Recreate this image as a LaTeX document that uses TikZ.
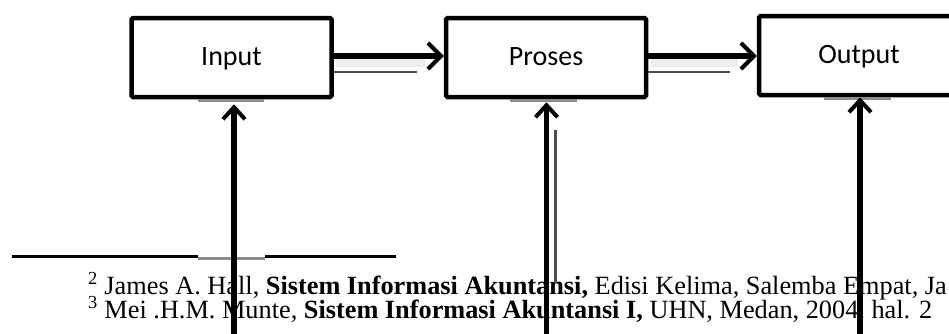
\documentclass[tikz,border=0pt]{standalone}
\usepackage{fontspec}
\setmainfont{Liberation Serif}
\newfontfamily\boxfont{Carlito}
\usetikzlibrary{arrows.meta}
\tikzset{
  procbox/.style={draw=black, line width=4.5pt, rounded corners=1.5pt,
    minimum width=200pt, minimum height=79pt, inner sep=0pt,
    text height=20pt, text depth=5pt,
    font=\boxfont\fontsize{28}{28}\selectfont},
  flowarrow/.style={line width=6pt,
    -{Straight Barb[length=13pt,width=26pt,line width=4pt]}},
  riserarrow/.style={line width=5.5pt,
    -{Straight Barb[length=12pt,width=22pt,line width=4pt]}},
  shadowline/.style={draw=black!70, line width=2.5pt},
  seam/.style={draw=black!45, line width=2.5pt},
  haze/.style={fill=black!7},
  rule/.style={draw=black, line width=3pt},
  footnote/.style={anchor=base west, inner sep=0pt,
    font=\fontsize{26.3}{26.3}\selectfont},
}
\begin{document}
\begin{tikzpicture}[x=1pt, y=-1pt]
\useasboundingbox (0,0) rectangle (949,333);

% footnotes
\node[footnote] (fn1) at (88,294)
  {\textsuperscript{2} James A. Hall, \textbf{Sistem Informasi Akuntansi,} Edisi Kelima, Salemba Empat, Ja};
\node[footnote] (fn2) at (88,318)
  {\textsuperscript{3} Mei .H.M. Munte, \textbf{Sistem Informasi Akuntansi I,} UHN, Medan, 2004, hal. 2};

% footnote separator
\coordinate (r0) at (12,256);
\coordinate (r1) at (198,256);
\coordinate (r2) at (265,256);
\coordinate (r3) at (396,256);
\draw[rule] (r0) -- (r1);
\draw[seam] ([yshift=-2.5pt]r1) -- ([yshift=-2.5pt]r2);
\draw[rule] (r2) -- (r3);

% process boxes
\node[procbox] (inp) at (231.5,57.5) {Input};
\node[procbox] (pro) at (546,57.5) {Proses};
\node[procbox] (out) at (859,55.5) {Output};

% seams under the boxes
\draw[seam] (198,100.5) -- (264,100.5);
\draw[seam] (510,100.5) -- (577,100.5);
\draw[seam] (824,98.5) -- (891,98.5);

% horizontal flow arrows with their shadow lines
\fill[haze] (336,59) rectangle (425,67);
\draw[shadowline] (inp.east |- 0,72) -- ++(83,0);
\draw[flowarrow] (inp.east |- 0,56) -- (pro.west |- 0,56);

\fill[haze] (651,59) rectangle (738,67);
\draw[shadowline] (pro.east |- 0,72) -- ++(82,0);
\draw[flowarrow] (pro.east |- 0,56) -- (out.west |- 0,56);

% rising arrows into the boxes
\coordinate (ib) at (234,345);
\coordinate (pb) at (546.5,345);
\coordinate (ob) at (860,345);
\draw[shadowline] (555.5,130) -- (555.5,283);
\draw[riserarrow, shorten >=5pt] (ib) -- (ib |- inp.south);
\draw[riserarrow, shorten >=3pt] (pb) -- (pb |- pro.south);
\draw[riserarrow] (ob) -- (ob |- out.south);
\end{tikzpicture}
\end{document}
